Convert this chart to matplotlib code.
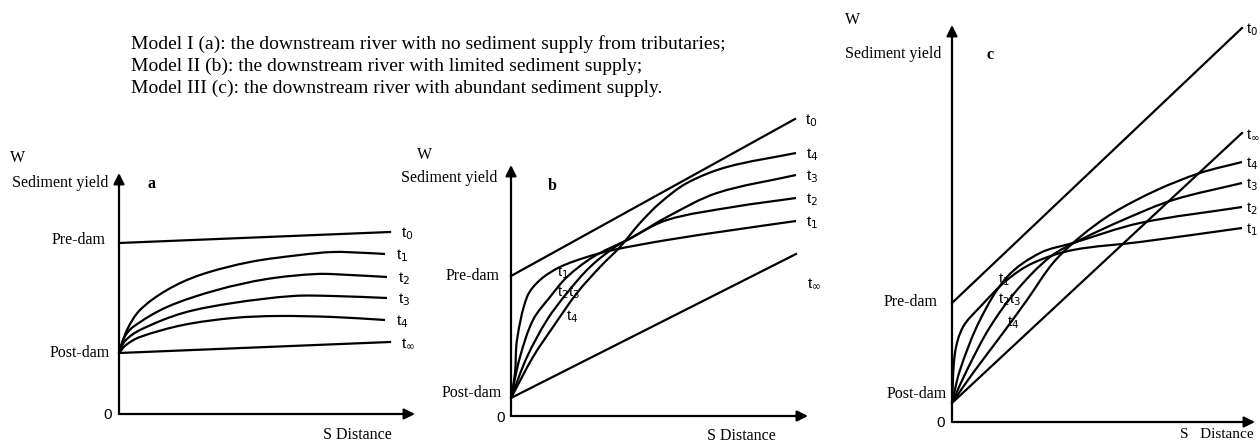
import matplotlib
matplotlib.use("Agg")
import matplotlib.pyplot as plt
import numpy as np
from matplotlib.path import Path
from matplotlib.patches import PathPatch

W, H = 1260, 443

# Model text
notes = [
    "Model I (a): the downstream river with no sediment supply from tributaries;",
    "Model II (b): the downstream river with limited sediment supply;",
    "Model III (c): the downstream river with abundant sediment supply.",
]

# values (distance, sediment yield), arbitrary units
# panel a
a_t0_x = [0, 271]
a_t0_y = [171, 182]
a_tinf_x = [0, 271]
a_tinf_y = [61, 72]
a_t1_x = [0, 8, 21, 48, 81, 131, 181, 214, 248, 266]
a_t1_y = [61, 84, 104, 124, 139, 152, 159, 162, 161, 160]
a_t2_x = [0, 5, 14, 48, 98, 148, 198, 231, 268]
a_t2_y = [61, 76, 87, 107, 124, 135, 140, 139, 137]
a_t3_x = [0, 6, 21, 64, 114, 174, 214, 268]
a_t3_y = [61, 73, 84, 101, 111, 118, 118, 116]
a_t4_x = [0, 7, 21, 64, 114, 158, 214, 266]
a_t4_y = [61, 69, 77, 89, 96, 98, 97, 94]

# panel b
b_t0_x = [0, 284]
b_t0_y = [140, 297]
b_tinf_x = [0, 285]
b_tinf_y = [18, 162]
b_t1_x = [0, 4, 6, 16, 29, 49, 76, 102, 156, 222, 285]
b_t1_y = [18, 43, 76, 119, 136, 149, 159, 166, 176, 186, 195]
b_t2_x = [0, 9, 22, 39, 56, 82, 116, 156, 222, 285]
b_t2_y = [18, 59, 96, 119, 139, 159, 176, 196, 209, 218]
b_t3_x = [0, 16, 36, 56, 79, 104, 122, 156, 206, 285]
b_t3_y = [18, 59, 96, 123, 149, 169, 179, 199, 223, 241]
b_t4_x = [0, 22, 42, 66, 89, 109, 129, 149, 176, 216, 285]
b_t4_y = [18, 59, 89, 123, 149, 169, 193, 213, 233, 249, 263]

# panel c
c_t0_x = [0, 290]
c_t0_y = [119, 394]
c_tinf_x = [0, 290]
c_tinf_y = [19, 289]
c_t1_x = [0, 3, 11, 28, 55, 81, 121, 188, 290]
c_t1_y = [19, 69, 95, 115, 142, 159, 172, 180, 194]
c_t2_x = [0, 8, 28, 55, 88, 121, 188, 290]
c_t2_y = [19, 52, 102, 145, 169, 179, 199, 215]
c_t3_x = [0, 15, 38, 65, 98, 128, 171, 221, 290]
c_t3_y = [19, 52, 95, 132, 165, 182, 202, 222, 239]
c_t4_x = [0, 21, 48, 75, 101, 128, 161, 205, 248, 290]
c_t4_y = [19, 49, 85, 122, 159, 185, 209, 232, 249, 260]

labels = ["t$_0$", "t$_1$", "t$_2$", "t$_3$", "t$_4$", r"t$_\infty$"]

SERIF = "Liberation Serif"
SANS = "Liberation Sans"

fig = plt.figure(figsize=(W / 100, H / 100), dpi=100)


def ftext(x, y, s, **kw):
    # place text using figure pixel position (from top-left)
    kw.setdefault("family", SERIF)
    kw.setdefault("fontsize", 11.5)
    fig.text(x / W, 1 - y / H, s, **kw)


def make_panel(ox, oy, xtip, ytop):
    ax = fig.add_axes([ox / W, 1 - oy / H, (xtip - ox) / W, (oy - ytop) / H])
    ax.set_xlim(0, xtip - ox)
    ax.set_ylim(0, oy - ytop)
    ax.axis("off")
    arrow = dict(arrowstyle="-|>", color="k", lw=1.6, mutation_scale=16,
                 shrinkA=0, shrinkB=0)
    ax.annotate("", xy=(1, 0), xytext=(0, 0), xycoords="axes fraction",
                arrowprops=arrow, annotation_clip=False)
    ax.annotate("", xy=(0, 1), xytext=(0, 0), xycoords="axes fraction",
                arrowprops=arrow, annotation_clip=False)
    return ax


def draw(ax, xs, ys):
    if len(xs) == 2:
        ax.plot(xs, ys, color="k", lw=1.6, clip_on=False)
        return
    # smooth bezier through the read points
    p = np.column_stack([xs, ys]).astype(float)
    n = len(p)
    d = np.zeros_like(p)
    for i in range(n):
        a = p[max(i - 1, 0)]
        b = p[min(i + 1, n - 1)]
        v = b - a
        d[i] = v / np.hypot(*v)
    verts = [p[0]]
    codes = [Path.MOVETO]
    for i in range(n - 1):
        L = np.hypot(*(p[i + 1] - p[i]))
        verts += [p[i] + d[i] * L / 3, p[i + 1] - d[i + 1] * L / 3, p[i + 1]]
        codes += [Path.CURVE4] * 3
    patch = PathPatch(Path(verts, codes), fill=False, edgecolor="k", lw=1.6,
                      clip_on=False)
    ax.add_patch(patch)


def end_label(ax, xs, ys, s, dx=10, dy=-2, size=11):
    ax.text(xs[-1] + dx, ys[-1] + dy, s, family=SANS, fontsize=size,
            va="center", ha="left", clip_on=False)


for i, line in enumerate(notes):
    ftext(131, 44 + i * 22, line, va="center", fontsize=14)

# ---- panel a
ax_a = make_panel(119, 414, 415, 173)
a_lines = [(a_t0_x, a_t0_y), (a_t1_x, a_t1_y), (a_t2_x, a_t2_y),
           (a_t3_x, a_t3_y), (a_t4_x, a_t4_y), (a_tinf_x, a_tinf_y)]
for (xs, ys), s in zip(a_lines, labels):
    draw(ax_a, xs, ys)
    end_label(ax_a, xs, ys, s, dx=11)
ftext(10, 158, "W", va="center")
ftext(12, 183, "Sediment yield", va="center")
ftext(152, 184, "a", va="center", ha="center", weight="bold")
ftext(106, 240, "Pre-dam", va="center", ha="right")
ftext(110, 353, "Post-dam", va="center", ha="right")
ftext(108, 415, "0", va="center", ha="center", family=SANS, fontsize=11)
ftext(357, 435, "S Distance", va="center", ha="center")

# ---- panel b
ax_b = make_panel(511, 416, 808, 165)
b_lines = [(b_t0_x, b_t0_y), (b_t1_x, b_t1_y), (b_t2_x, b_t2_y),
           (b_t3_x, b_t3_y), (b_t4_x, b_t4_y), (b_tinf_x, b_tinf_y)]
for xs, ys in b_lines:
    draw(ax_b, xs, ys)
for (xs, ys), s in zip(b_lines[:5], labels[:5]):
    end_label(ax_b, xs, ys, s)
end_label(ax_b, b_tinf_x, b_tinf_y, labels[5], dx=11, dy=-30)
ftext(425, 155, "W", va="center", ha="center")
ftext(497, 178, "Sediment yield", va="center", ha="right")
ftext(552, 186, "b", va="center", ha="center", weight="bold")
ftext(500, 276, "Pre-dam", va="center", ha="right")
ftext(502, 393, "Post-dam", va="center", ha="right")
ftext(501, 418, "0", va="center", ha="center", family=SANS, fontsize=11)
ftext(741, 436, "S Distance", va="center", ha="center")
ftext(557, 273, "t$_1$", va="center", family=SANS, fontsize=10.5)
ftext(557, 293, "t$_2$t$_3$", va="center", family=SANS, fontsize=10.5)
ftext(566, 317, "t$_4$", va="center", family=SANS, fontsize=10.5)

# ---- panel c
ax_c = make_panel(952, 422, 1255, 25)
c_lines = [(c_t0_x, c_t0_y), (c_t1_x, c_t1_y), (c_t2_x, c_t2_y),
           (c_t3_x, c_t3_y), (c_t4_x, c_t4_y), (c_tinf_x, c_tinf_y)]
for (xs, ys), s in zip(c_lines, labels):
    draw(ax_c, xs, ys)
    end_label(ax_c, xs, ys, s, dx=4, size=10.5)
ftext(845, 20, "W", va="center")
ftext(845, 54, "Sediment yield", va="center")
ftext(990, 55, "c", va="center", ha="center", weight="bold")
ftext(938, 302, "Pre-dam", va="center", ha="right")
ftext(947, 394, "Post-dam", va="center", ha="right")
ftext(941, 423, "0", va="center", ha="center", family=SANS, fontsize=11)
ftext(1180, 435, "S   Distance", va="center", ha="left", fontsize=11)
ftext(998, 280, "t$_1$", va="center", family=SANS, fontsize=10.5)
ftext(998, 300, "t$_2$t$_3$", va="center", family=SANS, fontsize=10.5)
ftext(1007, 323, "t$_4$", va="center", family=SANS, fontsize=10.5)

fig.savefig("out.png", dpi=100, facecolor="white")
